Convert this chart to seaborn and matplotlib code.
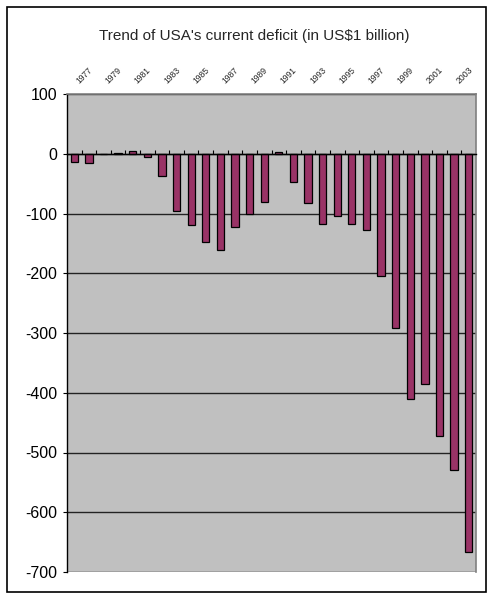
import matplotlib
matplotlib.use("Agg")
import matplotlib.pyplot as plt
import matplotlib.transforms as mtransforms
import seaborn as sns
import pandas as pd
from matplotlib.patches import Rectangle

# Current account balance of the USA, US$ billion
years = ["1977", "1978", "1979", "1980", "1981", "1982", "1983", "1984",
         "1985", "1986", "1987", "1988", "1989", "1990", "1991", "1992",
         "1993", "1994", "1995", "1996", "1997", "1998", "1999", "2000",
         "2001", "2002", "2003", "2004"]
balance = [-14, -15, -0.3, 2, 5, -6, -38, -95,
           -120, -147, -161, -122, -100, -80, 3, -48,
           -82, -117, -104, -117, -127, -205, -291, -411,
           -385, -473, -530, -666]
shown_years = ["1977", "1979", "1981", "1983", "1985", "1987", "1989",
               "1991", "1993", "1995", "1997", "1999", "2001", "2003"]
y_ticks = [100, 0, -100, -200, -300, -400, -500, -600, -700]

df = pd.DataFrame({"year": years, "balance": balance})

sns.set_style("white")
plt.rcParams["font.family"] = ["Liberation Sans", "DejaVu Sans"]

fig = plt.figure(figsize=(4.88, 5.97), dpi=100)
ax = fig.add_axes([67 / 488, 1 - 572 / 597, (476 - 67) / 488, (572 - 94) / 597])
ax.set_facecolor("#c0c0c0")

sns.barplot(data=df, x="year", y="balance", order=years, color="#993366",
            saturation=1, width=0.5, edgecolor="black", linewidth=0.9,
            ax=ax, zorder=3)

ax.set_xlim(-0.5, len(years) - 0.5)
ax.set_ylim(-700, 100)
ax.set_yticks(y_ticks)
ax.set_yticklabels([str(v) for v in y_ticks])
ax.yaxis.grid(True, color="#222222", linewidth=1.0)
ax.set_axisbelow(True)
ax.set_xlabel("")
ax.set_ylabel("")

# category boundary ticks along the zero line; no labels on the axis itself
ax.set_xticks([])
ax.set_xticks([i + 0.5 for i in range(len(years) - 1)], minor=True)
ax.tick_params(axis="x", which="minor", bottom=True, top=False,
               direction="in", length=3, width=0.8, color="black",
               labelbottom=False)
ax.spines["bottom"].set_position(("data", 0))
ax.spines["bottom"].set_color("black")
ax.spines["bottom"].set_linewidth(1.0)
ax.spines["bottom"].set_zorder(4)

# every other year written slanted above the plot area
label_offset = mtransforms.ScaledTranslation(6.5 / 100, 9 / 100,
                                             fig.dpi_scale_trans)
for yr in shown_years:
    ax.text(years.index(yr), 1, yr,
            transform=ax.get_xaxis_transform() + label_offset,
            rotation=45, rotation_mode="anchor", ha="left", va="bottom",
            fontsize=6.2, clip_on=False)

ax.tick_params(axis="y", direction="out", length=3, width=0.8, left=True,
               colors="black", pad=4, labelsize=11.5)
ax.spines["left"].set_color("black")
ax.spines["left"].set_linewidth(1.0)
for side in ("top", "right"):
    ax.spines[side].set_color("#808080")
    ax.spines[side].set_linewidth(1.2)

fig.text(254 / 488, 1 - 36 / 597,
         "Trend of USA's current deficit (in US$1 billion)",
         ha="center", va="center", fontsize=11)

fig.patches.append(Rectangle((7 / 488, 1 - 592 / 597), (486 - 7) / 488,
                             (592 - 7) / 597, transform=fig.transFigure,
                             fill=False, edgecolor="black", linewidth=1.2))

fig.savefig("out.png", dpi=100)
